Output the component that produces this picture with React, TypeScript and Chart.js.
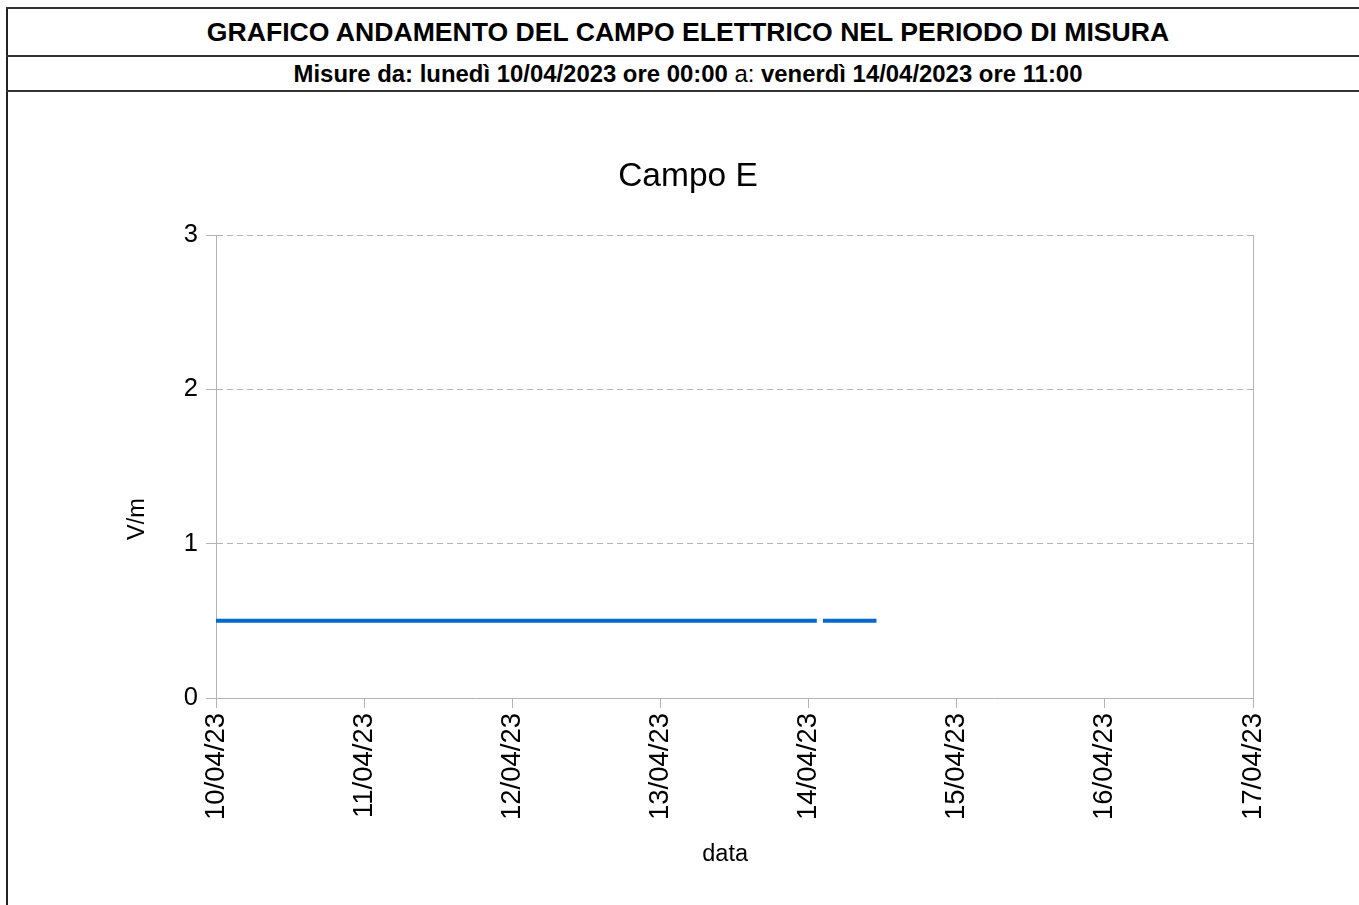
import React, { useEffect, useRef } from "react";
import { Chart, registerables } from "chart.js";

Chart.register(...registerables);

// ---- Data ----
const headerTitle = "GRAFICO ANDAMENTO DEL CAMPO ELETTRICO NEL PERIODO DI MISURA";
const periodStart = "lunedì 10/04/2023 ore 00:00";
const periodEnd = "venerdì 14/04/2023 ore 11:00";
const chartTitle = "Campo E";
const xAxisTitle = "data";
const yAxisTitle = "V/m";

// x tick labels (days starting from 10/04/2023)
const xTickLabels = ["10/04/23", "11/04/23", "12/04/23", "13/04/23", "14/04/23", "15/04/23", "16/04/23", "17/04/23"];
const yTicks = [0, 1, 2, 3];

// measured points (date, hour:minute) and values (null = missing measurement)
const pointDays = [10, 14, 14, 14, 14];
const pointTimes = ["00:00", "01:20", "01:50", "02:20", "11:00"];
const pointValues: (number | null)[] = [0.5, 0.5, null, 0.5, 0.5];

const FONT = "'Liberation Sans', Arial, sans-serif";

function toDayOffset(day: number, time: string): number {
  const [h, m] = time.split(":").map(Number);
  return day - 10 + (h + m / 60) / 24;
}

export default function App() {
  const canvasRef = useRef<HTMLCanvasElement | null>(null);

  useEffect(() => {
    const canvas = canvasRef.current;
    if (!canvas) return;

    const data = pointDays.map((d, i) => ({ x: toDayOffset(d, pointTimes[i]), y: pointValues[i] }));

    const textPlugin = {
      id: "customText",
      afterDraw(chart: any) {
        const { ctx, chartArea } = chart;
        ctx.save();
        // right wall border
        ctx.strokeStyle = "#b3b3b3";
        ctx.lineWidth = 1;
        ctx.beginPath();
        ctx.moveTo(Math.round(chartArea.right) + 0.5, chartArea.top);
        ctx.lineTo(Math.round(chartArea.right) + 0.5, chartArea.bottom);
        ctx.stroke();

        ctx.fillStyle = "#000";
        ctx.textAlign = "center";
        ctx.textBaseline = "middle";
        ctx.font = `33.5px ${FONT}`;
        ctx.fillText(chartTitle, chart.width / 2, chartArea.top - 58);

        ctx.font = `23.5px ${FONT}`;
        ctx.fillText(xAxisTitle, chartArea.left + (chartArea.right - chartArea.left) * 0.491, chartArea.bottom + 157);

        ctx.translate(chartArea.left - 78, chartArea.top + 284);
        ctx.rotate(-Math.PI / 2);
        ctx.fillText(yAxisTitle, 0, 0);
        ctx.restore();
      },
    };

    const chart = new Chart(canvas, {
      type: "line",
      data: {
        datasets: [
          {
            label: chartTitle,
            data: data as any,
            borderColor: "#0468cc",
            borderWidth: 4,
            pointRadius: 0,
            spanGaps: false,
            tension: 0,
          },
        ],
      },
      options: {
        animation: false,
        responsive: false,
        layout: { padding: { left: 0, right: 115, top: 143, bottom: 0 } },
        plugins: {
          legend: { display: false },
          title: { display: false },
          tooltip: { enabled: false },
        },
        scales: {
          x: {
            type: "linear",
            min: 0,
            max: xTickLabels.length - 1,
            afterFit: (axis: any) => {
              axis.height = 207;
            },
            afterBuildTicks: (axis: any) => {
              axis.ticks = xTickLabels.map((_, i) => ({ value: i }));
            },
            ticks: {
              stepSize: 1,
              autoSkip: false,
              minRotation: 90,
              maxRotation: 90,
              padding: 5,
              color: "#000",
              font: { family: FONT, size: 27.5 },
              callback: (v: any) => xTickLabels[Math.round(Number(v))] ?? "",
            },
            grid: {
              drawOnChartArea: false,
              drawTicks: true,
              tickLength: 10,
              color: "#b3b3b3",
              tickColor: "#b3b3b3",
            },
            border: { display: true, color: "#b3b3b3", width: 1 },
          },
          y: {
            min: yTicks[0],
            max: yTicks[yTicks.length - 1],
            afterFit: (axis: any) => {
              axis.width = 208;
            },
            afterBuildTicks: (axis: any) => {
              axis.ticks = yTicks.map((v) => ({ value: v }));
            },
            ticks: {
              stepSize: 1,
              padding: 8,
              color: "#000",
              font: { family: FONT, size: 25.5 },
            },
            grid: {
              color: "#b3b3b3",
              tickColor: "#b3b3b3",
              tickLength: 10,
              drawTicks: true,
            },
            border: { display: true, color: "#b3b3b3", width: 1, dash: [6, 4] },
          },
        },
      },
      plugins: [textPlugin],
    });

    return () => chart.destroy();
  }, []);

  const line = (top: number) => (
    <div style={{ position: "absolute", left: 6, top, width: 1400, height: 2, background: "#333" }} />
  );

  return (
    <div style={{ position: "fixed", inset: 0, overflow: "hidden", background: "#fff", fontFamily: FONT }}>
      <div style={{ position: "absolute", left: 6, top: 7, width: 2, height: 1000, background: "#222" }} />
      {line(7)}
      {line(55)}
      {line(90)}
      <div
        style={{
          position: "absolute",
          left: 8,
          width: 1360,
          top: 9,
          height: 46,
          display: "flex",
          alignItems: "center",
          justifyContent: "center",
          fontWeight: "bold",
          fontSize: 26.6,
          color: "#000",
          whiteSpace: "nowrap",
        }}
      >
        {headerTitle}
      </div>
      <div
        style={{
          position: "absolute",
          left: 8,
          width: 1360,
          top: 57,
          height: 33,
          display: "flex",
          alignItems: "center",
          justifyContent: "center",
          fontSize: 23.9,
          color: "#000",
          whiteSpace: "pre",
        }}
      >
        <b>Misure da: {periodStart}</b>
        <span> a: </span>
        <b>{periodEnd}</b>
      </div>
      <canvas
        ref={canvasRef}
        width={1360}
        height={813}
        style={{ position: "absolute", left: 8, top: 92, width: 1360, height: 813 }}
      />
    </div>
  );
}
